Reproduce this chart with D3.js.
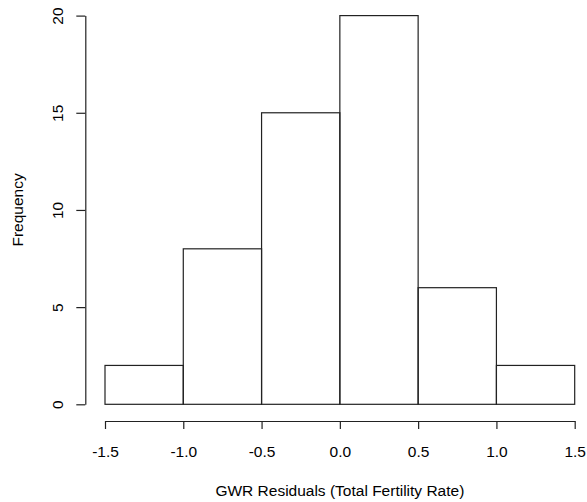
<!DOCTYPE html>
<html>
<head>
  <meta charset="utf-8">
  <title>GWR Residuals histogram</title>
  <script src="https://d3js.org/d3.v7.min.js"></script>
  <style>
    body { margin: 0; background: #fff; }
    svg text { font-family: "Liberation Sans", Arial, sans-serif; fill: #000; }
  </style>
</head>
<body>
  <div id="chart"></div>
  <script>
    // histogram bins (break edges) and counts
    var binStarts = [-1.5, -1.0, -0.5, 0.0, 0.5, 1.0];
    var binEnds   = [-1.0, -0.5,  0.0, 0.5, 1.0, 1.5];
    var counts    = [2, 8, 15, 20, 6, 2];
    var xTicks = [-1.5, -1.0, -0.5, 0.0, 0.5, 1.0, 1.5];
    var yTicks = [0, 5, 10, 15, 20];

    var width = 587, height = 502;

    var svg = d3.select("#chart")
      .append("svg")
        .attr("width", width)
        .attr("height", height);

    var x = d3.scaleLinear().domain([-1.5, 1.5]).range([105, 574.7]);
    var y = d3.scaleLinear().domain([0, 20]).range([404.3, 15.6]);

    // bars
    svg.append("g")
      .selectAll("rect")
      .data(counts)
      .enter()
      .append("rect")
        .attr("x", function(d, i) { return x(binStarts[i]); })
        .attr("width", function(d, i) { return x(binEnds[i]) - x(binStarts[i]); })
        .attr("y", function(d) { return y(d); })
        .attr("height", function(d) { return y(0) - y(d); })
        .style("fill", "none")
        .style("stroke", "#222")
        .style("stroke-width", 1.2);

    // x axis (R style, offset below the plot)
    var xAxis = d3.axisBottom(x)
      .tickValues(xTicks)
      .tickFormat(d3.format(".1f"))
      .tickSize(8)
      .tickSizeOuter(0);
    var gx = svg.append("g")
      .attr("transform", "translate(0,421)")
      .call(xAxis);
    gx.select(".domain").attr("stroke", "#222").attr("stroke-width", 1.2);
    gx.selectAll(".tick line").attr("stroke", "#222").attr("stroke-width", 1.2);
    gx.selectAll(".tick text")
      .attr("y", 36)
      .attr("dy", 0)
      .style("font-size", "15.5px")
      .text(function(d) { return d3.format(".1f")(d).replace("\u2212", "-"); });

    // y axis
    var yAxis = d3.axisLeft(y)
      .tickValues(yTicks)
      .tickSize(9)
      .tickSizeOuter(0);
    var gy = svg.append("g")
      .attr("transform", "translate(85.3,0)")
      .call(yAxis);
    gy.select(".domain").attr("stroke", "#222").attr("stroke-width", 1.2);
    gy.selectAll(".tick line").attr("stroke", "#222").attr("stroke-width", 1.2);
    gy.selectAll(".tick text")
      .attr("x", null)
      .attr("dy", null)
      .attr("text-anchor", "middle")
      .attr("transform", "translate(-22,0) rotate(-90)")
      .style("font-size", "15.5px");

    // axis titles
    svg.append("text")
      .attr("x", x(0))
      .attr("y", 496)
      .attr("text-anchor", "middle")
      .style("font-size", "15.5px")
      .text("GWR Residuals (Total Fertility Rate)");

    svg.append("text")
      .attr("transform", "translate(23," + y(10) + ") rotate(-90)")
      .attr("text-anchor", "middle")
      .style("font-size", "15.5px")
      .text("Frequency");
  </script>
</body>
</html>
